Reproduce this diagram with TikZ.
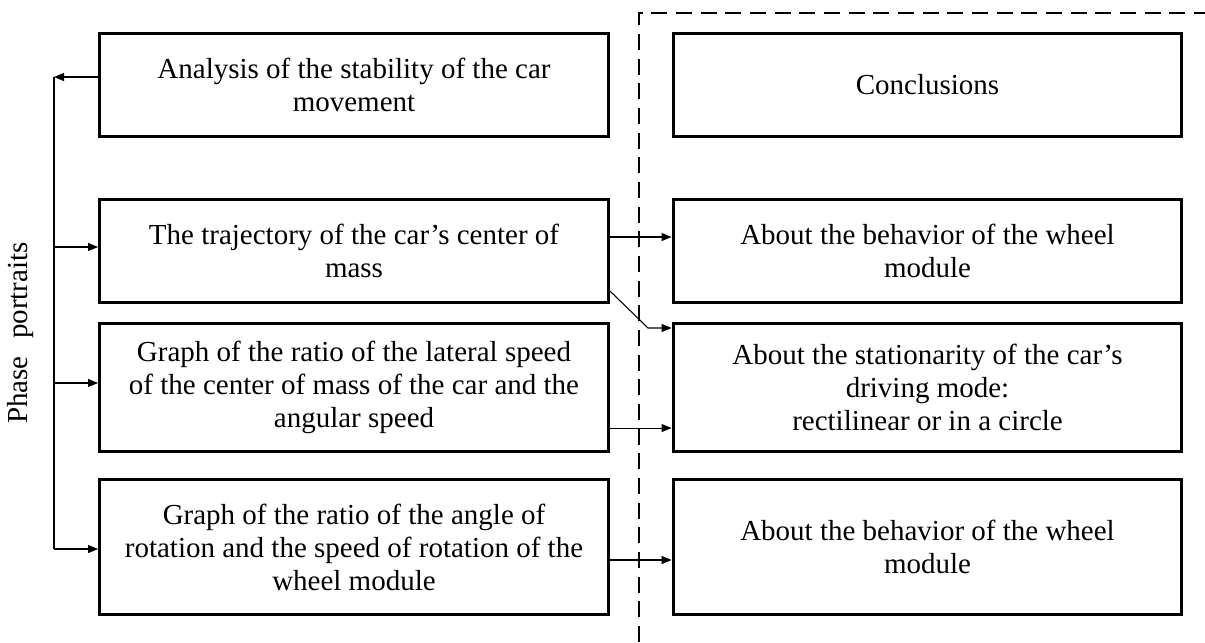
\documentclass[tikz,border=0pt]{standalone}
\usepackage{fontspec}
\setmainfont{Liberation Serif}
\usetikzlibrary{arrows.meta}

\begin{document}
\begin{tikzpicture}[x=0.75pt, y=-0.75pt,
  font=\fontsize{21.75pt}{24.75pt}\selectfont,
  box/.style={draw=black, line width=2.4pt, align=center, inner sep=0pt,
    minimum width=381.5pt},
  rowa/.style={minimum height=77.25pt},
  rowb/.style={minimum height=96pt},
  rowc/.style={minimum height=101.25pt},
  conn/.style={draw=black, line width=0.8pt,
    -{Triangle[length=7.5pt, width=6pt]}},
  bus/.style={draw=black, line width=0.8pt},
  frame/.style={draw=black, line width=0.8pt, dash pattern=on 12pt off 6.5pt}
]
\useasboundingbox (0,0) rectangle (1205,642);

% left column: what is analysed
\node[box, rowa] (L1) at (354,85)    {Analysis of the stability of the car\\movement};
\node[box, rowa] (L2) at (354,251)   {The trajectory of the car's center of\\mass};
\node[box, rowb] (L3) at (354,387.5) {Graph of the ratio of the lateral speed\\of the center of mass of the car and the\\angular speed};
\node[box, rowc] (L4) at (354,547)   {Graph of the ratio of the angle of\\rotation and the speed of rotation of the\\wheel module};

% right column: conclusions
\node[box, rowa] (R1) at (927.5,85)    {Conclusions};
\node[box, rowa] (R2) at (927.5,251)   {About the behavior of the wheel\\module};
\node[box, rowb] (R3) at (927.5,387.5) {About the stationarity of the car's\\driving mode:\\rectilinear or in a circle};
\node[box, rowc] (R4) at (927.5,547)   {About the behavior of the wheel\\module};

% vertical label of the bracket
\node[rotate=90] (phase) at (21,333) {Phase\hspace{0.6em}portraits};

% bracket on the left
\coordinate (bustop) at (54,77);
\coordinate (busbot) at (54,549);
\draw[conn] ([yshift=6pt]L1.west) -- (bustop);
\draw[bus] (bustop) -- (busbot);
\coordinate (in2) at ([yshift=3pt]L2.west);
\coordinate (in3) at ([yshift=3.4pt]L3.west);
\coordinate (in4) at ([yshift=-1.5pt]L4.west);
\draw[conn] (bustop |- in2) -- (in2);
\draw[conn] (bustop |- in3) -- (in3);
\draw[conn] (busbot) -- (in4);

% links to the conclusions
\draw[conn] ([yshift=10.5pt]L2.east) -- ([yshift=10.5pt]R2.west);
\coordinate (kink) at (648,328);
\draw[conn] ([yshift=-30pt]L2.east) -- (kink) -- (kink -| R3.west);
\draw[conn] ([yshift=-30.4pt]L3.east) -- ([yshift=-30.4pt]R3.west);
\draw[conn] ([yshift=-9.75pt]L4.east) -- ([yshift=-9.75pt]R4.west);

% dashed frame around the conclusions
\draw[frame] (639,642) -- (639,13) -- (1205,13);
\end{tikzpicture}
\end{document}
